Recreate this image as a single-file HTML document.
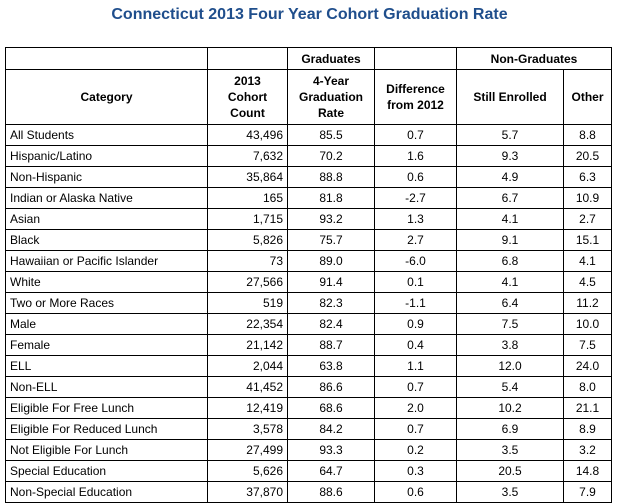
<!DOCTYPE html>
<html><head><style>
body{margin:0;width:619px;height:504px;background:#fff;font-family:"Liberation Sans",Arial,sans-serif;overflow:hidden}
.t{position:absolute;left:0;top:6px;width:619px;text-align:center;color:#1f4e8c;font-weight:bold;font-size:16px}
table{position:absolute;left:5px;top:47px;border-collapse:collapse;font-size:12px;color:#000}
td{border:1px solid #000;padding:0 4px;height:20px;text-align:center;white-space:nowrap}
td:first-child{text-align:left}
td:nth-child(2){text-align:right}
th{border:1px solid #000;font-weight:bold;font-size:12px;line-height:16px}
</style></head><body>
<div class="t">Connecticut 2013 Four Year Cohort Graduation Rate</div>
<table>
<colgroup><col style="width:202px"><col style="width:80px"><col style="width:87px"><col style="width:82px"><col style="width:107px"><col style="width:48px"></colgroup>
<tr style="height:22px"><th></th><th></th><th>Graduates</th><th></th><th colspan="2">Non-Graduates</th></tr>
<tr style="height:55px"><th>Category</th><th>2013<br>Cohort<br>Count</th><th>4-Year<br>Graduation<br>Rate</th><th>Difference<br>from 2012</th><th>Still Enrolled</th><th>Other</th></tr>
<tr><td>All Students</td><td>43,496</td><td>85.5</td><td>0.7</td><td>5.7</td><td>8.8</td></tr>
<tr><td>Hispanic/Latino</td><td>7,632</td><td>70.2</td><td>1.6</td><td>9.3</td><td>20.5</td></tr>
<tr><td>Non-Hispanic</td><td>35,864</td><td>88.8</td><td>0.6</td><td>4.9</td><td>6.3</td></tr>
<tr><td>Indian or Alaska Native</td><td>165</td><td>81.8</td><td>-2.7</td><td>6.7</td><td>10.9</td></tr>
<tr><td>Asian</td><td>1,715</td><td>93.2</td><td>1.3</td><td>4.1</td><td>2.7</td></tr>
<tr><td>Black</td><td>5,826</td><td>75.7</td><td>2.7</td><td>9.1</td><td>15.1</td></tr>
<tr><td>Hawaiian or Pacific Islander</td><td>73</td><td>89.0</td><td>-6.0</td><td>6.8</td><td>4.1</td></tr>
<tr><td>White</td><td>27,566</td><td>91.4</td><td>0.1</td><td>4.1</td><td>4.5</td></tr>
<tr><td>Two or More Races</td><td>519</td><td>82.3</td><td>-1.1</td><td>6.4</td><td>11.2</td></tr>
<tr><td>Male</td><td>22,354</td><td>82.4</td><td>0.9</td><td>7.5</td><td>10.0</td></tr>
<tr><td>Female</td><td>21,142</td><td>88.7</td><td>0.4</td><td>3.8</td><td>7.5</td></tr>
<tr><td>ELL</td><td>2,044</td><td>63.8</td><td>1.1</td><td>12.0</td><td>24.0</td></tr>
<tr><td>Non-ELL</td><td>41,452</td><td>86.6</td><td>0.7</td><td>5.4</td><td>8.0</td></tr>
<tr><td>Eligible For Free Lunch</td><td>12,419</td><td>68.6</td><td>2.0</td><td>10.2</td><td>21.1</td></tr>
<tr><td>Eligible For Reduced Lunch</td><td>3,578</td><td>84.2</td><td>0.7</td><td>6.9</td><td>8.9</td></tr>
<tr><td>Not Eligible For Lunch</td><td>27,499</td><td>93.3</td><td>0.2</td><td>3.5</td><td>3.2</td></tr>
<tr><td>Special Education</td><td>5,626</td><td>64.7</td><td>0.3</td><td>20.5</td><td>14.8</td></tr>
<tr><td>Non-Special Education</td><td>37,870</td><td>88.6</td><td>0.6</td><td>3.5</td><td>7.9</td></tr>
</table>
</body></html>
